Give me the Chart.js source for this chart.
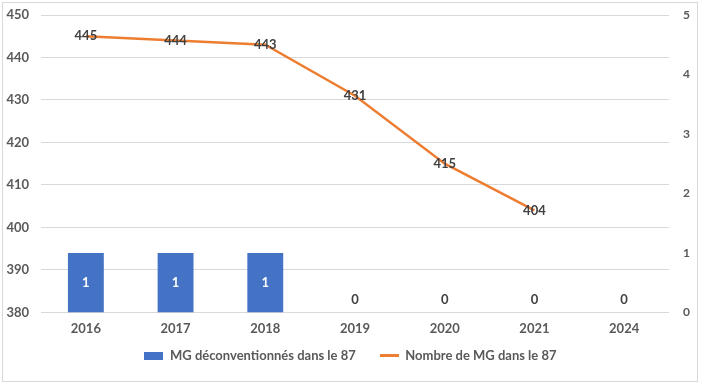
<!DOCTYPE html>
<html>
<head>
<meta charset="utf-8">
<script src="https://cdn.jsdelivr.net/npm/chart.js@4"></script>
<style>
  body { margin: 0; background: #fff; }
  #frame { position: absolute; left: 2px; top: 2px; width: 694px; height: 378px; border: 1px solid #d9d9d9; }
  #wrap { position: absolute; left: 0; top: 0; width: 701px; height: 386px; }
</style>
</head>
<body>
<div id="frame"></div>
<div id="wrap"><canvas id="chartCanvas"></canvas></div>
<script>
// données
const years = ['2016', '2017', '2018', '2019', '2020', '2021', '2024'];
const deconventionnes = [1, 1, 1, 0, 0, 0, 0];
const nombreMG = [445, 444, 443, 431, 415, 404, null];
const leftTicks = [380, 390, 400, 410, 420, 430, 440, 450];
const rightTicks = [0, 1, 2, 3, 4, 5];

const FONT = 'Lato, "Open Sans", sans-serif';
const BLUE = '#4472C4';
const ORANGE = '#ED7D31';
const GREY = '#595959';

function swatch(w, h, color) {
    const c = document.createElement('canvas');
    c.width = w; c.height = h;
    const g = c.getContext('2d');
    g.fillStyle = color;
    g.fillRect(0, 0, w, h);
    return c;
}

// étiquettes de valeurs (pas de plugin datalabels hors ligne)
const valueLabels = {
    id: 'valueLabels',
    afterDatasetsDraw(chart) {
        const ctx = chart.ctx;
        ctx.save();
        ctx.font = 'bold 13px ' + FONT;
        ctx.textAlign = 'center';
        ctx.textBaseline = 'middle';
        const barMeta = chart.getDatasetMeta(0);
        barMeta.data.forEach((bar, i) => {
            const v = deconventionnes[i];
            if (v > 0) {
                ctx.fillStyle = '#ffffff';
                ctx.fillText(v, bar.x, (bar.y + bar.base) / 2);
            } else {
                ctx.fillStyle = '#404040';
                ctx.fillText(v, bar.x, bar.base - 13);
            }
        });
        const lineMeta = chart.getDatasetMeta(1);
        lineMeta.data.forEach((pt, i) => {
            if (nombreMG[i] === null) return;
            ctx.fillStyle = '#404040';
            ctx.fillText(nombreMG[i], pt.x, pt.y);
        });
        ctx.restore();
    }
};

// remonter la légende plus près de l'axe
const legendShift = {
    id: 'legendShift',
    afterLayout(chart) {
        if (!chart.legend) return;
        chart.legend.top -= 21;
        chart.legend.bottom -= 21;
    }
};

function fixLeft(axis) {
    axis.width = 41;
    axis.paddingTop = 0;
}
function fixRight(axis) {
    axis.width = 32;
    axis.paddingTop = 0;
}

const ctx = document.getElementById('chartCanvas').getContext('2d');
const chart = new Chart(ctx, {
    data: {
        labels: years,
        datasets: [{
            type: 'bar',
            label: 'MG déconventionnés dans le 87',
            data: deconventionnes,
            backgroundColor: BLUE,
            yAxisID: 'y1',
            barPercentage: 0.4,
            categoryPercentage: 1,
            pointStyle: swatch(19, 8, BLUE)
        }, {
            type: 'line',
            label: 'Nombre de MG dans le 87',
            data: nombreMG,
            borderColor: ORANGE,
            backgroundColor: ORANGE,
            borderWidth: 2.5,
            pointRadius: 0,
            tension: 0,
            yAxisID: 'y',
            pointStyle: swatch(19, 3, ORANGE)
        }]
    },
    options: {
        responsive: true,
        maintainAspectRatio: false,
        animation: false,
        layout: { padding: { top: 15, bottom: -7, left: 0, right: 0 } },
        scales: {
            x: {
                grid: { display: false, drawTicks: false },
                border: { display: false },
                ticks: { color: GREY, font: { family: FONT, size: 13, weight: 'bold' }, padding: 9 }
            },
            y: {
                position: 'left',
                min: 380,
                max: 450,
                afterBuildTicks: axis => { axis.ticks = leftTicks.map(v => ({ value: v })); },
                afterFit: fixLeft,
                grid: { color: '#d9d9d9', drawTicks: false },
                border: { display: false },
                ticks: { color: GREY, font: { family: FONT, size: 13, weight: 'bold' }, padding: 12 }
            },
            y1: {
                position: 'right',
                min: 0,
                max: 5,
                afterBuildTicks: axis => { axis.ticks = rightTicks.map(v => ({ value: v })); },
                afterFit: fixRight,
                grid: { display: false, drawTicks: false },
                border: { display: false },
                ticks: { color: GREY, font: { family: FONT, size: 12, weight: 'bold' }, padding: 14 }
            }
        },
        plugins: {
            legend: {
                position: 'bottom',
                labels: {
                    usePointStyle: true,
                    pointStyleWidth: 19,
                    padding: 24,
                    color: GREY,
                    font: { family: FONT, size: 13, weight: 'bold' }
                }
            },
            tooltip: { enabled: false }
        }
    },
    plugins: [valueLabels, legendShift]
});
</script>
</body>
</html>
